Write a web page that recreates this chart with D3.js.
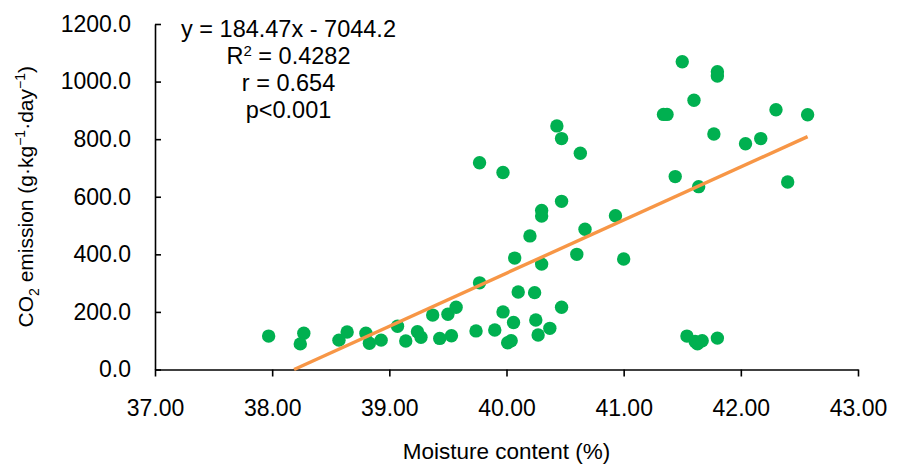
<!DOCTYPE html>
<html>
<head>
<meta charset="utf-8">
<script src="https://cdn.jsdelivr.net/npm/d3@7"></script>
<style>
  body { margin: 0; background: #fff; }
  text { font-family: Arial, "Liberation Sans", sans-serif; fill: #000; }
</style>
</head>
<body>
<div id="chart"></div>
<script>
// moisture content (%) and CO2 emission
var moisture = [37.97, 38.27, 38.24, 38.57, 38.64, 38.80, 38.83, 38.93, 39.07, 39.14,
  39.24, 39.27, 39.37, 39.43, 39.50, 39.57, 39.53, 39.74, 39.77, 39.77,
  39.90, 39.97, 39.97, 40.06, 40.01, 40.04, 40.10, 40.07, 40.24, 40.25,
  40.27, 40.20, 40.30, 40.30, 40.30, 40.37, 40.47, 40.47, 40.43, 40.47,
  40.63, 40.60, 40.67, 40.93, 41.00, 41.34, 41.37, 41.44, 41.50, 41.60,
  41.64, 41.80, 41.80, 41.77, 42.04, 42.17, 42.30, 42.40, 42.57, 41.54,
  41.61, 41.63, 41.67, 41.80];
var emission = [116, 126, 89, 102, 130, 126, 91, 102, 150, 99,
  131, 112, 189, 108, 192, 216, 117, 134, 301, 718,
  137, 200, 684, 163, 93, 100, 269, 387, 267, 172,
  120, 464, 552, 533, 366, 143, 216, 584, 846, 802,
  751, 400, 487, 534, 384, 886, 886, 670, 1069, 935,
  635, 1034, 1019, 818, 784, 802, 902, 651, 885, 116,
  97, 89, 100, 109];

// linear fit shown in the chart
var slope = 184.47;
var intercept = -7044.2;
var fitRange = [38.187, 42.57];

var xTicks = [37, 38, 39, 40, 41, 42, 43];
var yTicks = [0, 200, 400, 600, 800, 1000, 1200];
var statLines = ['y = 184.47x - 7044.2', 'R2 = 0.4282', 'r = 0.654', 'p<0.001'];

var width = 901, height = 464;
var margin = {left: 155, right: 43, top: 24, bottom: 94.5};

var svg = d3.select('#chart')
  .append('svg')
  .attr('width', width)
  .attr('height', height);

var x = d3.scaleLinear()
  .domain([37, 43])
  .range([margin.left, width - margin.right]);

var y = d3.scaleLinear()
  .domain([0, 1200])
  .range([height - margin.bottom, margin.top]);

// axes
var xAxis = svg.append('g')
  .attr('transform', 'translate(0,' + y(0) + ')')
  .call(d3.axisBottom(x).tickValues(xTicks).tickFormat(d3.format('.2f'))
    .tickSizeInner(7).tickSizeOuter(0).tickPadding(23));

var yAxis = svg.append('g')
  .attr('transform', 'translate(' + x(37) + ',0)')
  .call(d3.axisLeft(y).tickValues(yTicks).tickFormat(d3.format('.1f'))
    .tickSizeInner(-6).tickSizeOuter(0).tickPadding(24));

[xAxis, yAxis].forEach(function(g){
  g.selectAll('path, line').attr('stroke', '#000').attr('stroke-width', 1.6);
  g.selectAll('text').style('font-size', '23px').attr('fill', '#000');
});

// points
svg.append('g')
  .selectAll('circle')
  .data(moisture)
  .enter()
  .append('circle')
  .attr('cx', function(d){ return x(d); })
  .attr('cy', function(d, i){ return y(emission[i]); })
  .attr('r', 6.7)
  .attr('fill', '#00B050');

// trend line
var line = d3.line()
  .x(function(d){ return x(d); })
  .y(function(d){ return y(slope * d + intercept); });

svg.append('path')
  .datum(fitRange)
  .attr('d', line)
  .attr('fill', 'none')
  .attr('stroke', '#F79646')
  .attr('stroke-width', 3.4);

// regression stats
var stats = svg.append('g');
statLines.forEach(function(s, i){
  var t = stats.append('text')
    .attr('x', 288.5)
    .attr('y', 36.5 + i * 27)
    .attr('text-anchor', 'middle')
    .style('font-size', '23.5px');
  if (s.indexOf('R2') === 0){
    t.append('tspan').text('R');
    t.append('tspan').attr('dy', -8).style('font-size', '15px').text('2');
    t.append('tspan').attr('dy', 8).text(' = 0.4282');
  } else {
    t.text(s);
  }
});

// axis titles
svg.append('text')
  .attr('x', x(40))
  .attr('y', 459)
  .attr('text-anchor', 'middle')
  .style('font-size', '22.5px')
  .text('Moisture content (%)');

var yTitle = svg.append('text')
  .attr('transform', 'translate(33,' + ((margin.top + y(0)) / 2) + ') rotate(-90)')
  .attr('text-anchor', 'middle')
  .style('font-size', '21px');

yTitle.append('tspan').text('CO');
yTitle.append('tspan').attr('dy', 6).style('font-size', '14px').text('2');
yTitle.append('tspan').attr('dy', -6).text(' emission (g\u00b7kg');
yTitle.append('tspan').attr('dy', -8).style('font-size', '14px').text('\u22121');
yTitle.append('tspan').attr('dy', 8).text('\u00b7day');
yTitle.append('tspan').attr('dy', -8).style('font-size', '14px').text('\u22121');
yTitle.append('tspan').attr('dy', 8).text(')');
</script>
</body>
</html>
